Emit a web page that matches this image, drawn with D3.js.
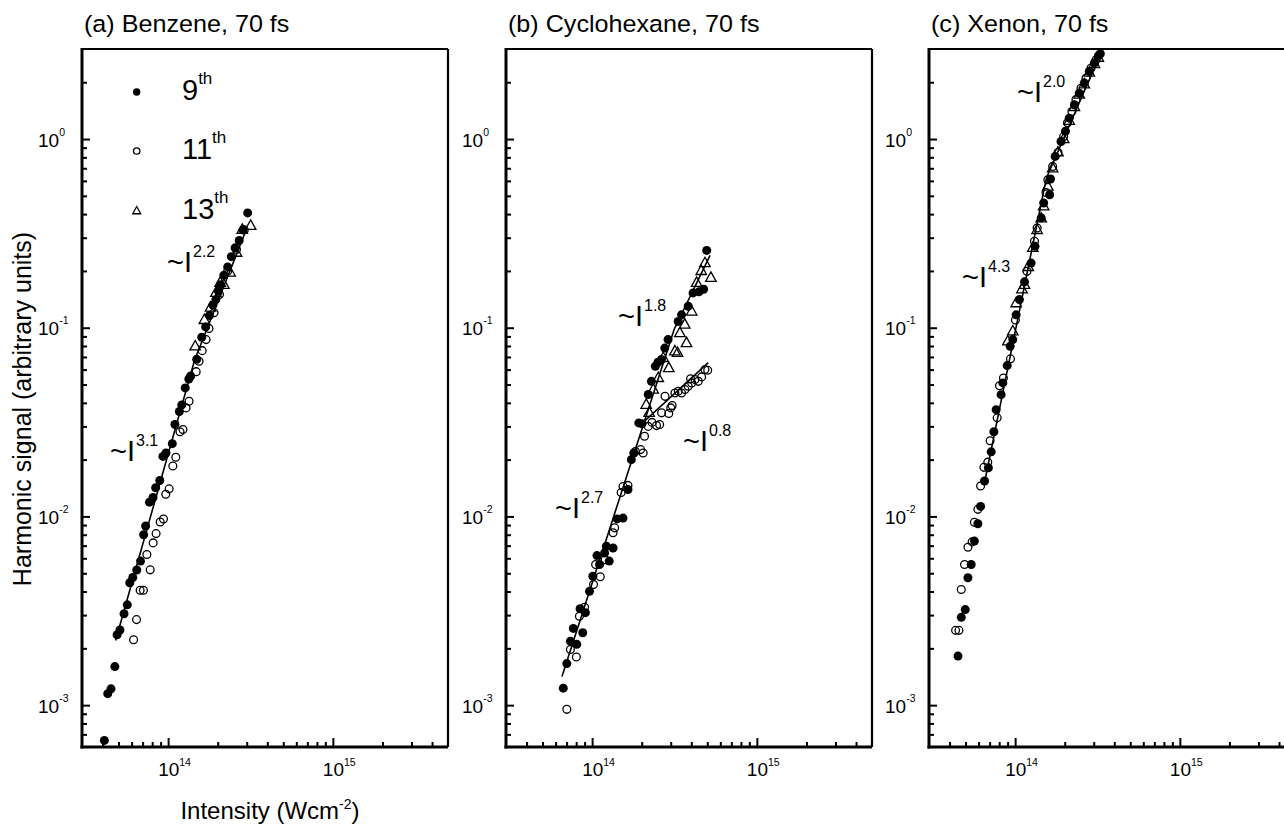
<!DOCTYPE html>
<html>
<head>
<meta charset="utf-8">
<script src="https://cdn.jsdelivr.net/npm/d3@7"></script>
<style>
  body { margin: 0; background: #fff; }
  svg { display: block; }
  text { font-family: "Liberation Sans", Arial, Helvetica, sans-serif; fill: #000; }
</style>
</head>
<body>
<svg id="chart" width="1284" height="827"></svg>
<script>
// ---- axes ----
const xDomain = [3e13, 5e15];
const yDomain = [6e-4, 3];
const xMajor = [1e14, 1e15];
const xMinor = [4e13, 5e13, 6e13, 7e13, 8e13, 9e13, 2e14, 3e14, 4e14, 5e14, 6e14, 7e14, 8e14, 9e14, 2e15, 3e15, 4e15];
const yMajor = [1e-3, 1e-2, 1e-1, 1];
const yMinor = [7e-4, 8e-4, 9e-4,
  2e-3, 3e-3, 4e-3, 5e-3, 6e-3, 7e-3, 8e-3, 9e-3,
  2e-2, 3e-2, 4e-2, 5e-2, 6e-2, 7e-2, 8e-2, 9e-2,
  2e-1, 3e-1, 4e-1, 5e-1, 6e-1, 7e-1, 8e-1, 9e-1, 2];

const panelTitles = ["(a) Benzene, 70 fs", "(b) Cyclohexane, 70 fs", "(c) Xenon, 70 fs"];
const legendOrders = ["9", "11", "13"];

// ---- (a) benzene: [intensity W/cm^2, harmonic signal] ----
const benzene9 = [[4.1e13,6.5e-4],[4.3e13,1.15e-3],[4.5e13,1.22e-3],[4.75e13,1.6e-3],[4.9e13,2.36e-3],[5.1e13,2.5e-3],
  [5.4e13,3.05e-3],[5.65e13,3.4e-3],[5.85e13,4.45e-3],[6.1e13,4.75e-3],[6.45e13,5.2e-3],[6.8e13,5.8e-3],[7.1e13,8.0e-3],
  [7.3e13,8.9e-3],[7.7e13,1.19e-2],[8.1e13,1.26e-2],[8.4e13,1.42e-2],[8.9e13,1.55e-2],[9.3e13,2.08e-2],[9.7e13,2.17e-2],
  [1.06e14,2.43e-2],[1.10e14,3.07e-2],[1.17e14,3.6e-2],[1.21e14,3.9e-2],[1.27e14,4.8e-2],[1.335e14,5.35e-2],[1.37e14,5.55e-2],
  [1.49e14,6.8e-2],[1.60e14,8.9e-2],[1.69e14,0.101],[1.78e14,0.116],[1.87e14,0.132],[1.95e14,0.141],[2.02e14,0.156],
  [2.08e14,0.169],[2.18e14,0.19],[2.3e14,0.21],[2.42e14,0.238],[2.55e14,0.265],[2.7e14,0.29],[2.85e14,0.33],[3.04e14,0.406]];
const benzene11 = [[6.17e13,2.22e-3],[6.43e13,2.84e-3],[6.76e13,4.06e-3],[7.08e13,4.06e-3],[7.43e13,6.28e-3],[7.78e13,5.21e-3],
  [8.11e13,7.24e-3],[8.45e13,8.11e-3],[8.95e13,9.35e-3],[9.37e13,9.7e-3],[9.68e13,1.31e-2],[1.014e14,1.40e-2],[1.068e14,1.85e-2],
  [1.113e14,2.06e-2],[1.18e14,2.81e-2],[1.23e14,2.89e-2],[1.285e14,3.76e-2],[1.34e14,4.08e-2],[1.48e14,5.85e-2],[1.54e14,6.64e-2],
  [1.61e14,7.56e-2],[1.70e14,8.65e-2],[1.77e14,9.9e-2],[1.9e14,0.12],[2.05e14,0.15],[2.3e14,0.2],[2.6e14,0.26],[2.9e14,0.33]];
const benzene13 = [[1.46e14,7.97e-2],[1.66e14,0.110],[1.81e14,0.128],[1.95e14,0.153],[2.07e14,0.173],[2.18e14,0.169],
  [2.38e14,0.196],[2.6e14,0.25],[2.82e14,0.331],[3.17e14,0.347]];
// power-law fit: segment breakpoints, exponents, signal at first breakpoint
const benzeneFitI = [4.8e13, 1.45e14, 3.0e14];
const benzeneFitExp = [3.1, 2.2];
const benzeneFitStart = 2.2e-3;

// ---- (b) cyclohexane ----
const cyclo9 = [[6.68e13,1.23e-3],[7.02e13,1.66e-3],[7.38e13,2.18e-3],[8.07e13,2.10e-3],[7.69e13,2.55e-3],[8.77e13,2.42e-3],
  [8.45e13,3.24e-3],[9.1e13,3.09e-3],[9.64e13,4.01e-3],[1.01e14,4.82e-3],[1.11e14,5.56e-3],[1.27e14,5.8e-3],[1.07e14,6.2e-3],
  [1.19e14,6.4e-3],[1.22e14,6.95e-3],[1.34e14,6.8e-3],[1.42e14,9.7e-3],[1.54e14,9.8e-3],[1.65e14,1.39e-2],[1.73e14,2.0e-2],
  [1.79e14,2.17e-2],[1.92e14,3.13e-2],[2.01e14,3.1e-2],[2.19e14,4.43e-2],[2.29e14,5.2e-2],[2.42e14,6.25e-2],[2.51e14,6.56e-2],
  [2.63e14,6.78e-2],[2.76e14,7.8e-2],[2.89e14,8.65e-2],[3.33e14,0.108],[3.49e14,0.117],[3.83e14,0.130],[4.1e14,0.153],
  [4.45e14,0.155],[4.75e14,0.16],[4.96e14,0.257]];
const cyclo11 = [[7.02e13,9.5e-4],[7.38e13,1.97e-3],[8.02e13,1.80e-3],[8.37e13,2.96e-3],[9.0e13,3.3e-3],[1.02e14,4.36e-3],
  [1.05e14,5.56e-3],[1.12e14,4.79e-3],[1.20e14,5.9e-3],[1.34e14,8.2e-3],[1.37e14,8.7e-3],[1.50e14,1.34e-2],[1.54e14,1.44e-2],
  [1.65e14,1.46e-2],[1.83e14,2.21e-2],[1.97e14,2.26e-2],[2.04e14,2.17e-2],[2.08e14,2.66e-2],[2.19e14,3.0e-2],[2.31e14,3.15e-2],
  [2.46e14,3.03e-2],[2.57e14,3.07e-2],[2.64e14,3.54e-2],[2.77e14,4.33e-2],[2.92e14,3.51e-2],[3.0e14,3.76e-2],[3.06e14,3.87e-2],
  [3.18e14,4.51e-2],[3.33e14,4.61e-2],[3.49e14,4.51e-2],[3.66e14,4.7e-2],[3.83e14,4.9e-2],[3.96e14,5.36e-2],[4.02e14,5.1e-2],
  [4.21e14,5.31e-2],[4.41e14,5.2e-2],[4.62e14,5.49e-2],[4.84e14,6.0e-2],[5.03e14,5.95e-2]];
const cyclo13 = [[2.13e14,3.91e-2],[2.22e14,3.54e-2],[2.35e14,4.7e-2],[2.52e14,5.42e-2],[2.70e14,6.92e-2],[2.92e14,6.12e-2],
  [3.18e14,7.5e-2],[3.30e14,7.36e-2],[3.41e14,9.38e-2],[3.65e14,0.104],[3.74e14,8.3e-2],[4.02e14,0.122],[4.31e14,0.173],
  [4.6e14,0.2],[4.84e14,0.220],[5.26e14,0.184]];
const cycloFitI = [6.56e13, 3.15e14, 5.2e14];
const cycloFitExp = [2.7, 1.8];
const cycloFitStart = 1.42e-3;
const cycloBranchI = [2.08e14, 5.07e14];
const cycloBranchExp = [0.8];
const cycloBranchStart = 3.2e-2;

// ---- (c) xenon ----
const xenon9 = [[4.5e13,1.82e-3],[4.71e13,2.92e-3],[4.98e13,3.21e-3],[5.17e13,4.73e-3],[5.41e13,5.56e-3],[5.66e13,7.4e-3],
  [5.94e13,9.14e-3],[6.17e13,1.13e-2],[6.52e13,1.54e-2],[6.88e13,1.81e-2],[7.16e13,2.2e-2],[7.43e13,2.81e-2],[7.67e13,3.68e-2],
  [8.22e13,4.42e-2],[8.42e13,5.1e-2],[8.95e13,6.3e-2],[9.33e13,7.97e-2],[9.68e13,8.65e-2],[1.014e14,0.117],[1.062e14,0.141],
  [1.14e14,0.175],[1.25e14,0.220],[1.32e14,0.27],[1.44e14,0.382],[1.49e14,0.458],[1.62e14,0.507],[1.64e14,0.614],[1.75e14,0.809],
  [1.90e14,0.971],[2.02e14,1.10],[2.13e14,1.29],[2.29e14,1.52],[2.45e14,1.75],[2.63e14,1.98],[2.82e14,2.28],[3.03e14,2.53],
  [3.20e14,2.76],[3.29e14,2.83]];
const xenon11 = [[4.35e13,2.49e-3],[4.56e13,2.49e-3],[4.71e13,4.1e-3],[4.93e13,5.56e-3],[5.17e13,6.87e-3],[5.48e13,7.33e-3],
  [5.66e13,9.31e-3],[5.94e13,1.09e-2],[6.17e13,1.45e-2],[6.46e13,1.82e-2],[6.82e13,1.94e-2],[7.05e13,2.52e-2],[7.78e13,3.33e-2],
  [8.04e13,4.93e-2],[8.49e13,5.42e-2],[9.37e13,6.84e-2],[1.004e14,0.110],[1.18e14,0.199],[1.31e14,0.287],[1.36e14,0.338],
  [1.54e14,0.521],[1.58e14,0.609],[1.69e14,0.716],[1.82e14,0.849],[1.97e14,1.03],[2.08e14,1.22],[2.21e14,1.40],[2.34e14,1.62],
  [2.51e14,1.86],[2.69e14,2.10],[2.89e14,2.38],[3.10e14,2.63]];
const xenon13 = [[9.03e13,8.47e-2],[9.68e13,9.57e-2],[1.014e14,0.135],[1.10e14,0.16],[1.14e14,0.169],[1.20e14,0.21],
  [1.28e14,0.265],[1.36e14,0.33],[1.44e14,0.38],[1.49e14,0.44],[1.58e14,0.56],[1.69e14,0.70],[1.82e14,0.85],[1.97e14,1.0],
  [2.13e14,1.25],[2.29e14,1.48],[2.45e14,1.72],[2.63e14,1.95],[2.82e14,2.25],[3.03e14,2.5],[3.20e14,2.7]];
const xenonFitI = [6.52e13, 1.547e14, 3.32e14];
const xenonFitExp = [4.3, 2.0];
const xenonFitStart = 1.51e-2;

// ---- slope annotations: [exponent text, x, y baseline] in page pixels ----
const benzeneNotes = [["2.2", 167, 272], ["3.1", 110, 461]];
const cycloNotes = [["1.8", 618, 326], ["0.8", 683, 451], ["2.7", 555, 518]];
const xenonNotes = [["2.0", 1017, 102], ["4.3", 962, 287]];

// vertices of a piecewise power law
function fitVertices(Is, exps, s0) {
  const pts = [[Is[0], s0]];
  for (let i = 0; i < exps.length; i++) {
    const prev = pts[pts.length - 1][1];
    pts.push([Is[i + 1], prev * Math.pow(Is[i + 1] / Is[i], exps[i])]);
  }
  return pts;
}

const panels = [
  { title: panelTitles[0], left: 82, s9: benzene9, s11: benzene11, s13: benzene13,
    fits: [fitVertices(benzeneFitI, benzeneFitExp, benzeneFitStart)], notes: benzeneNotes, legend: true },
  { title: panelTitles[1], left: 506, s9: cyclo9, s11: cyclo11, s13: cyclo13,
    fits: [fitVertices(cycloFitI, cycloFitExp, cycloFitStart), fitVertices(cycloBranchI, cycloBranchExp, cycloBranchStart)],
    notes: cycloNotes },
  { title: panelTitles[2], left: 929, s9: xenon9, s11: xenon11, s13: xenon13,
    fits: [fitVertices(xenonFitI, xenonFitExp, xenonFitStart)], notes: xenonNotes }
];

const svg = d3.select("#chart");
const W = 366, H = 698, TOP = 49;

function triPath(cx, cy, s) {
  const h = s * 0.9;
  return `M${cx},${cy - h * 0.62}L${cx + s / 2},${cy + h * 0.38}L${cx - s / 2},${cy + h * 0.38}Z`;
}

panels.forEach(p => {
  const x = d3.scaleLog().domain(xDomain).range([0, W]);
  const y = d3.scaleLog().domain(yDomain).range([H, 0]);

  // title
  svg.append("text")
    .attr("transform", `translate(${p.left + 2},32) scale(1.07,1)`)
    .attr("font-size", 23.5)
    .text(p.title);

  const g = svg.append("g").attr("transform", `translate(${p.left},${TOP})`);

  // inward ticks
  const tickGroups = [
    [d3.axisBottom(x).tickValues(xMinor).tickSize(-5), `translate(0,${H})`],
    [d3.axisBottom(x).tickValues(xMajor).tickSize(-9), `translate(0,${H})`],
    [d3.axisLeft(y).tickValues(yMinor).tickSize(-5), null],
    [d3.axisLeft(y).tickValues(yMajor).tickSize(-8), null]
  ];
  tickGroups.forEach(([ax, tr]) => {
    const a = g.append("g");
    if (tr) a.attr("transform", tr);
    a.call(ax.tickFormat(""));
    a.select(".domain").remove();
    a.selectAll(".tick line").attr("stroke", "#000").attr("stroke-width", 2);
  });

  // frame
  g.append("line").attr("x1", 0).attr("x2", W).attr("y1", 0).attr("y2", 0).attr("stroke", "#000").attr("stroke-width", 2.2);
  g.append("line").attr("x1", W).attr("x2", W).attr("y1", 0).attr("y2", H).attr("stroke", "#000").attr("stroke-width", 2.2);
  g.append("line").attr("x1", 0).attr("x2", 0).attr("y1", -1).attr("y2", H + 1.5).attr("stroke", "#000").attr("stroke-width", 3);
  g.append("line").attr("x1", -1.5).attr("x2", W).attr("y1", H).attr("y2", H).attr("stroke", "#000").attr("stroke-width", 3);

  // x tick labels
  xMajor.forEach(v => {
    const t = g.append("text").attr("x", x(v) - 10).attr("y", H + 29).attr("font-size", 19);
    t.append("tspan").text("10");
    t.append("tspan").attr("dy", -10).attr("font-size", 10.5).text(Math.round(Math.log10(v)));
  });
  // y tick labels
  yMajor.forEach(v => {
    const t = g.append("text").attr("x", -44).attr("y", y(v) + 7.5).attr("font-size", 19);
    t.append("tspan").text("10");
    t.append("tspan").attr("dy", -11).attr("font-size", 10.5).text(String(Math.round(Math.log10(v))));
  });

  // fit lines
  const line = d3.line().x(d => x(d[0])).y(d => y(d[1]));
  p.fits.forEach(f => {
    g.append("path").attr("d", line(f)).attr("fill", "none").attr("stroke", "#000").attr("stroke-width", 1.6);
  });

  // data
  g.selectAll(".h9").data(p.s9).join("circle")
    .attr("cx", d => x(d[0])).attr("cy", d => y(d[1])).attr("r", 4.5).attr("fill", "#000");
  g.selectAll(".h11").data(p.s11).join("circle")
    .attr("cx", d => x(d[0])).attr("cy", d => y(d[1])).attr("r", 3.9)
    .attr("fill", "none").attr("stroke", "#000").attr("stroke-width", 1.3);
  g.selectAll(".h13").data(p.s13).join("path")
    .attr("d", d => triPath(x(d[0]), y(d[1]), 10.5))
    .attr("fill", "none").attr("stroke", "#000").attr("stroke-width", 1.3);

  // slope annotations
  p.notes.forEach(([e, nx, ny]) => {
    const t = svg.append("text").attr("x", nx).attr("y", ny).attr("font-size", 29);
    t.append("tspan").text("~I");
    t.append("tspan").attr("dx", 1).attr("dy", -15).attr("font-size", 16).text(e);
  });

  // legend
  if (p.legend) {
    const ys = [92, 151, 211];
    legendOrders.forEach((o, i) => {
      const cx = 136.7, cy = ys[i];
      if (i === 0) svg.append("circle").attr("cx", cx).attr("cy", cy).attr("r", 3.7).attr("fill", "#000");
      if (i === 1) svg.append("circle").attr("cx", cx).attr("cy", cy).attr("r", 3.2).attr("fill", "none").attr("stroke", "#000").attr("stroke-width", 1.3);
      if (i === 2) svg.append("path").attr("d", triPath(cx, cy, 8)).attr("fill", "none").attr("stroke", "#000").attr("stroke-width", 1.3);
      const t = svg.append("text").attr("x", 182).attr("y", cy + 7.5).attr("font-size", 29);
      t.append("tspan").text(o);
      t.append("tspan").attr("dy", -16).attr("font-size", 17).text("th");
    });
  }
});

// axis titles
const xl = svg.append("text").attr("x", 270).attr("y", 819).attr("text-anchor", "middle").attr("font-size", 24);
xl.append("tspan").text("Intensity (Wcm");
xl.append("tspan").attr("dy", -10).attr("font-size", 14).text("-2");
xl.append("tspan").attr("dy", 10).text(")");

svg.append("text")
  .attr("transform", "translate(31,409) rotate(-90)")
  .attr("text-anchor", "middle")
  .attr("font-size", 25)
  .text("Harmonic signal (arbitrary units)");
</script>
</body>
</html>
